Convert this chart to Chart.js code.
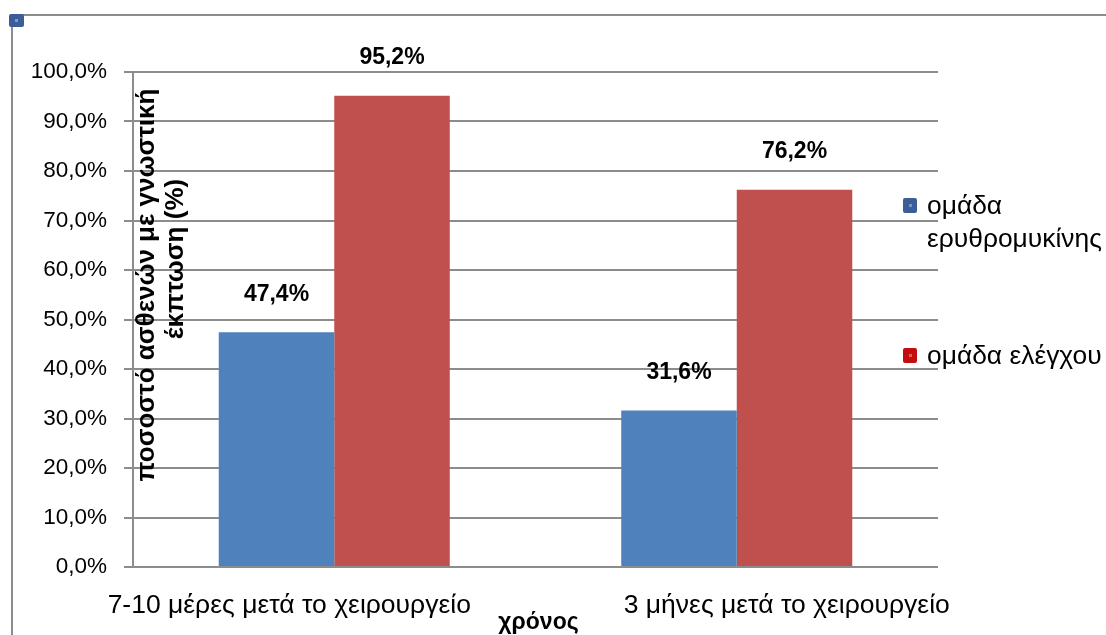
<!DOCTYPE html>
<html>
<head>
<meta charset="utf-8">
<script src="https://cdn.jsdelivr.net/npm/chart.js@4.4.1/dist/chart.umd.min.js"></script>
<style>
  html, body { margin: 0; padding: 0; background: #fff; }
  #wrap { position: relative; width: 1106px; height: 635px; }
</style>
</head>
<body>
<div id="wrap"><canvas id="chart"></canvas></div>
<script>
// data
const categories = ["7-10 μέρες μετά το χειρουργείο", "3 μήνες μετά το χειρουργείο"];
const erythromycin = [47.4, 31.6];
const control = [95.2, 76.2];
const seriesNames = ["ομάδα ερυθρομυκίνης", "ομάδα ελέγχου"];
const yTitleLines = ["ποσοστό ασθενών με γνωστική", "έκπτωση (%)"];
const xTitle = "χρόνος";

const FONT = "'Liberation Sans', Arial, sans-serif";
const GRID = "#8c8c8c";
const barColors = ["#4f81bd", "#c0504d"];
const legendColors = ["#3b5e98", "#c40d0d"];
const xLabelShift = [-45, 50];

const pct = v => v.toFixed(1).replace(".", ",") + "%";

function wrap(ctx, text, maxW) {
  const words = text.split(" ");
  const lines = [];
  let cur = "";
  words.forEach(w => {
    const t = cur ? cur + " " + w : w;
    if (ctx.measureText(t).width > maxW && cur) { lines.push(cur); cur = w; }
    else cur = t;
  });
  if (cur) lines.push(cur);
  return lines;
}

const decor = {
  id: "decor",
  beforeDraw(chart) {
    const ctx = chart.ctx;
    ctx.save();
    ctx.strokeStyle = GRID;
    ctx.lineWidth = 2;
    ctx.beginPath();
    ctx.moveTo(12, 635); ctx.lineTo(12, 15); ctx.lineTo(1106, 15);
    ctx.stroke();
    // selection handle in the corner
    ctx.fillStyle = "#3b5e98";
    ctx.beginPath(); ctx.roundRect(9, 14, 15, 13, 2); ctx.fill();
    ctx.fillStyle = "#7b9bd0";
    ctx.fillRect(15, 19, 3, 3);
    ctx.restore();
  },
  afterDatasetsDraw(chart) {
    const ctx = chart.ctx;
    ctx.save();
    ctx.font = "bold 23px " + FONT;
    ctx.fillStyle = "#000";
    ctx.textAlign = "center";
    ctx.textBaseline = "middle";
    chart.data.datasets.forEach((ds, i) => {
      chart.getDatasetMeta(i).data.forEach((bar, j) => {
        ctx.fillText(pct(ds.data[j]), bar.x, bar.y - 38);
      });
    });
    ctx.restore();
  },
  afterDraw(chart) {
    const ctx = chart.ctx;
    const xs = chart.scales.x;
    ctx.save();
    ctx.fillStyle = "#000";

    // category labels
    ctx.font = "26.5px " + FONT;
    ctx.textAlign = "center";
    ctx.textBaseline = "alphabetic";
    categories.forEach((c, i) => {
      ctx.fillText(c, xs.getPixelForTick(i) + xLabelShift[i], 613);
    });

    // x axis title
    ctx.font = "bold 23px " + FONT;
    ctx.fillText(xTitle, (chart.chartArea.left + chart.chartArea.right) / 2 + 3, 629);

    // y axis title, rotated, over the plot
    ctx.save();
    ctx.translate(147, 285);
    ctx.rotate(-Math.PI / 2);
    ctx.font = "bold 26px " + FONT;
    ctx.textBaseline = "middle";
    ctx.fillText(yTitleLines[0], 0, 0);
    ctx.fillText(yTitleLines[1], 26, 29);
    ctx.restore();

    // legend
    ctx.font = "26.4px " + FONT;
    ctx.textAlign = "left";
    ctx.textBaseline = "middle";
    const tops = [198, 348];
    chart.data.datasets.forEach((ds, i) => {
      const top = tops[i];
      ctx.fillStyle = legendColors[i];
      ctx.beginPath(); ctx.roundRect(903, top, 14, 15, 2); ctx.fill();
      ctx.fillStyle = "rgba(255,255,255,0.35)";
      ctx.fillRect(909, top + 6, 3, 3);
      ctx.fillStyle = "#000";
      wrap(ctx, ds.label, 180).forEach((line, k) => {
        ctx.fillText(line, 927, top + 9 + k * 33);
      });
    });
    ctx.restore();
  }
};

new Chart(document.getElementById("chart").getContext("2d"), {
  type: "bar",
  data: {
    labels: categories,
    datasets: [
      {
        label: seriesNames[0],
        data: erythromycin,
        backgroundColor: barColors[0],
        categoryPercentage: 0.574,
        barPercentage: 1.0
      },
      {
        label: seriesNames[1],
        data: control,
        backgroundColor: barColors[1],
        categoryPercentage: 0.574,
        barPercentage: 1.0
      }
    ]
  },
  options: {
    responsive: true,
    maintainAspectRatio: false,
    animation: false,
    devicePixelRatio: 1,
    layout: { padding: { left: 0, right: 168, top: 72, bottom: 0 } },
    scales: {
      x: {
        grid: { display: false },
        border: { display: false },
        ticks: { display: false },
        afterFit: s => { s.height = 68; }
      },
      y: {
        min: 0,
        max: 100,
        ticks: {
          stepSize: 10,
          padding: 17,
          color: "#000",
          font: { family: FONT, size: 22.5 },
          callback: v => pct(v)
        },
        grid: { color: GRID, lineWidth: 2, tickLength: 9 },
        border: { display: true, color: GRID, width: 2 },
        afterFit: s => { s.width = 133; }
      }
    },
    plugins: {
      legend: { display: false },
      tooltip: { enabled: false }
    }
  },
  plugins: [decor]
});
</script>
</body>
</html>
